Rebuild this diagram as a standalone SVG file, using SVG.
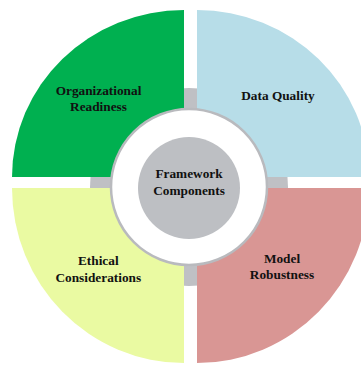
<svg xmlns="http://www.w3.org/2000/svg" width="361" height="365" viewBox="0 0 361 365">
  <style>
    .label { font-family: "Liberation Serif", "Times New Roman", serif; font-weight: bold; font-size: 13.3px; fill: #111; text-anchor: middle; }
    .q-green { fill: #00B050; }
    .q-blue { fill: #B7DDE8; }
    .q-yellow { fill: #EAFAA2; }
    .q-red { fill: #D99694; }
  </style>
  <rect width="361" height="365" fill="#FFFFFF"/>

  <!-- grey disc behind the quadrants, visible only in the gaps -->
  <g id="hub-backing">
    <circle cx="189" cy="187" r="99" fill="#BFC0C4"/>
  </g>

  <g id="organizational-readiness">
    <path class="q-green" d="M184,177 L12,177 A172,167 0 0 1 184,10 Z"/>
    <text class="label" x="98.5" y="95">Organizational</text>
    <text class="label" x="98.5" y="110.7">Readiness</text>
  </g>

  <g id="data-quality">
    <path class="q-blue" d="M197,177 L197,10 A172,167 0 0 1 369,177 Z"/>
    <text class="label" x="278" y="100">Data Quality</text>
  </g>

  <g id="ethical-considerations">
    <path class="q-yellow" d="M184,188 L184,363 A172,175 0 0 1 12,188 Z"/>
    <text class="label" x="98.3" y="265">Ethical</text>
    <text class="label" x="98.3" y="281.7">Considerations</text>
  </g>

  <g id="model-robustness">
    <path class="q-red" d="M197,188 L369,188 A172,175 0 0 1 197,363 Z"/>
    <text class="label" x="282" y="262.7">Model</text>
    <text class="label" x="282" y="279.3">Robustness</text>
  </g>

  <g id="framework-components">
    <circle cx="189" cy="187" r="78" fill="#FFFFFF" stroke="#B9BABE" stroke-width="2.5"/>
    <circle cx="189" cy="188" r="51" fill="#BDBFC3"/>
    <text class="label" x="189" y="178.3">Framework</text>
    <text class="label" x="189" y="195">Components</text>
  </g>
</svg>
